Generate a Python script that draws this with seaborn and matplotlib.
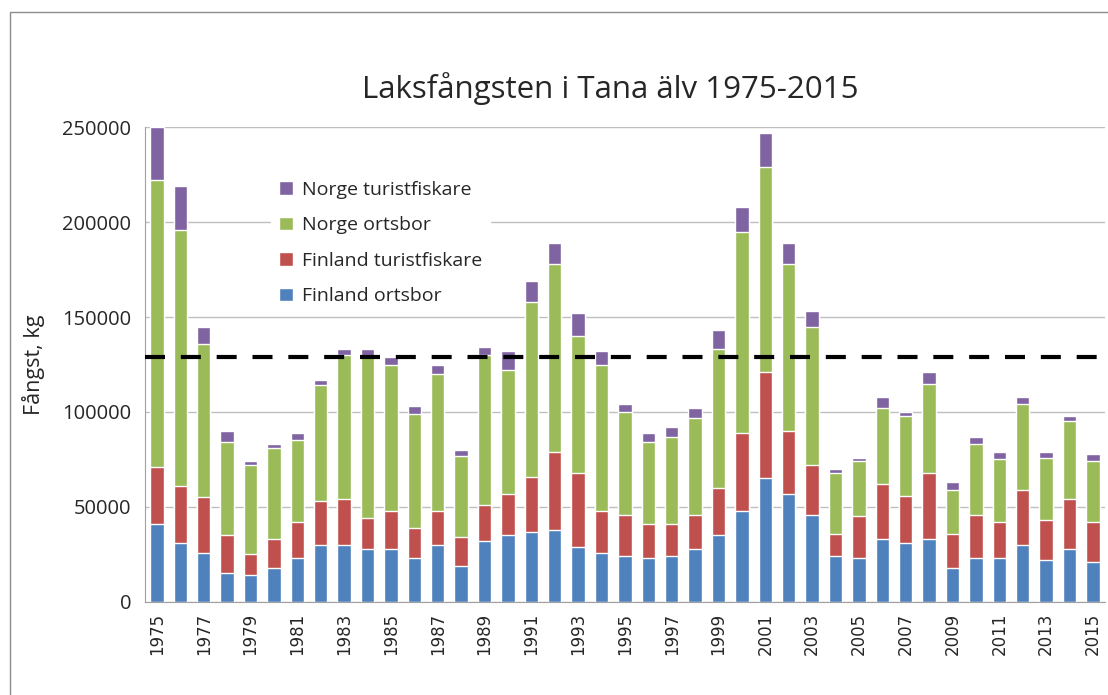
"""Laksfångsten i Tana älv 1975-2015 - stacked bar chart."""
import matplotlib
matplotlib.use("Agg")
import matplotlib.pyplot as plt
from matplotlib.patches import Patch, Rectangle
import numpy as np
import pandas as pd
import seaborn as sns

# -- Data ----------------------------------------------------------------------
YEARS = list(range(1975, 2016))
finland_ortsbor = [41000, 31000, 26000, 15000, 14000, 18000, 23000, 30000, 30000, 28000,
                   28000, 23000, 30000, 19000, 32000, 35000, 37000, 38000, 29000, 26000,
                   24000, 23000, 24000, 28000, 35000, 48000, 65000, 57000, 46000, 24000,
                   23000, 33000, 31000, 33000, 18000, 23000, 23000, 30000, 22000, 28000,
                   21000]
finland_turist = [30000, 30000, 29000, 20000, 11000, 15000, 19000, 23000, 24000, 16000,
                  20000, 16000, 18000, 15000, 19000, 22000, 29000, 41000, 39000, 22000,
                  22000, 18000, 17000, 18000, 25000, 41000, 56000, 33000, 26000, 12000,
                  22000, 29000, 25000, 35000, 18000, 23000, 19000, 29000, 21000, 26000,
                  21000]
norge_ortsbor = [151000, 135000, 81000, 49000, 47000, 48000, 43000, 61000, 76000, 85000,
                 77000, 60000, 72000, 43000, 79000, 65000, 92000, 99000, 72000, 77000,
                 54000, 43000, 46000, 51000, 73000, 106000, 108000, 88000, 73000, 32000,
                 29000, 40000, 42000, 47000, 23000, 37000, 33000, 45000, 33000, 41000,
                 32000]
norge_turist = [28000, 23000, 9000, 6000, 2000, 2000, 4000, 3000, 3000, 4000,
                4000, 4000, 5000, 3000, 4000, 10000, 11000, 11000, 12000, 7000,
                4000, 5000, 5000, 5000, 10000, 13000, 18000, 11000, 8000, 2000,
                2000, 6000, 2000, 6000, 4000, 4000, 4000, 4000, 3000, 3000,
                4000]
SERIES = ["Finland ortsbor", "Finland turistfiskare", "Norge ortsbor", "Norge turistfiskare"]
COLORS = ["#4F81BD", "#C0504D", "#9BBB59", "#8064A2"]
REFERENCE_LEVEL = 129000

TITLE = "Laksfångsten i Tana älv 1975-2015"
Y_LABEL = "Fångst, kg"

sns.set_theme(style="white")
plt.rcParams["font.family"] = ["Open Sans", "DejaVu Sans"]


def build_frame() -> pd.DataFrame:
    df = pd.DataFrame({
        "year": [str(y) for y in YEARS],
        SERIES[0]: finland_ortsbor,
        SERIES[1]: finland_turist,
        SERIES[2]: norge_ortsbor,
        SERIES[3]: norge_turist,
    })
    # cumulative tops so later (lower) layers are drawn over earlier ones
    df[SERIES] = df[SERIES].cumsum(axis=1)
    return df


def main() -> None:
    df = build_frame()
    fig = plt.figure(figsize=(11.08, 6.95), dpi=100)
    ax = fig.add_axes([0.131, 0.134, 0.866, 0.683])

    for name, color in reversed(list(zip(SERIES, COLORS))):
        sns.barplot(data=df, x="year", y=name, color=color, width=0.57,
                    saturation=1, ax=ax, zorder=2)

    ax.axhline(REFERENCE_LEVEL, color="black", lw=3, dashes=(4.8, 3.8), zorder=4)

    ax.set_ylim(0, 250000)
    ax.set_xlim(-0.5, len(YEARS) - 0.5)
    ax.set_yticks(np.arange(0, 250001, 50000))
    ax.set_yticklabels([str(v) for v in range(0, 250001, 50000)], fontsize=14.5)
    ax.yaxis.grid(True, color="#BFBFBF", lw=1)
    ax.set_axisbelow(True)

    ax.set_xticks(range(0, len(YEARS), 2))
    ax.set_xticklabels([str(y) for y in YEARS[::2]], rotation=90, fontsize=12,
                       family=["DejaVu Sans"])
    ax.set_xticks(np.arange(-0.5, len(YEARS), 1), minor=True)
    ax.tick_params(axis="x", which="major", length=0, pad=8)
    ax.tick_params(axis="x", which="minor", length=5, color="#A0A0A0", width=0.8)
    ax.tick_params(axis="y", length=4, color="#A0A0A0", pad=6)
    ax.set_xlabel("")
    ax.set_ylabel(Y_LABEL, fontsize=15.5, labelpad=12)

    for side in ("top", "right"):
        ax.spines[side].set_visible(False)
    for side in ("left", "bottom"):
        ax.spines[side].set_color("#A0A0A0")
        ax.spines[side].set_linewidth(0.8)

    handles = [Patch(facecolor=c, label=s) for s, c in zip(SERIES, COLORS)][::-1]
    leg = ax.legend(handles=handles, loc="upper left", bbox_to_anchor=(0.236, 0.765),
                    bbox_transform=fig.transFigure, fontsize=14, frameon=True,
                    handlelength=0.7, handleheight=0.7, handletextpad=0.5,
                    labelspacing=0.9, borderpad=0.4)
    leg.get_frame().set_facecolor("white")
    leg.get_frame().set_edgecolor("white")
    leg.get_frame().set_alpha(1)
    leg.set_zorder(5)

    fig.text(0.551, 0.873, TITLE, ha="center", va="center", fontsize=22.5)
    fig.patches.append(Rectangle((10 / 1108, -0.05), 1.1, 1 - 12 / 695 + 0.05,
                                 transform=fig.transFigure, fill=False,
                                 edgecolor="#8C8C8C", lw=1))

    fig.savefig("out.png", dpi=100)
    plt.close(fig)


if __name__ == "__main__":
    main()
